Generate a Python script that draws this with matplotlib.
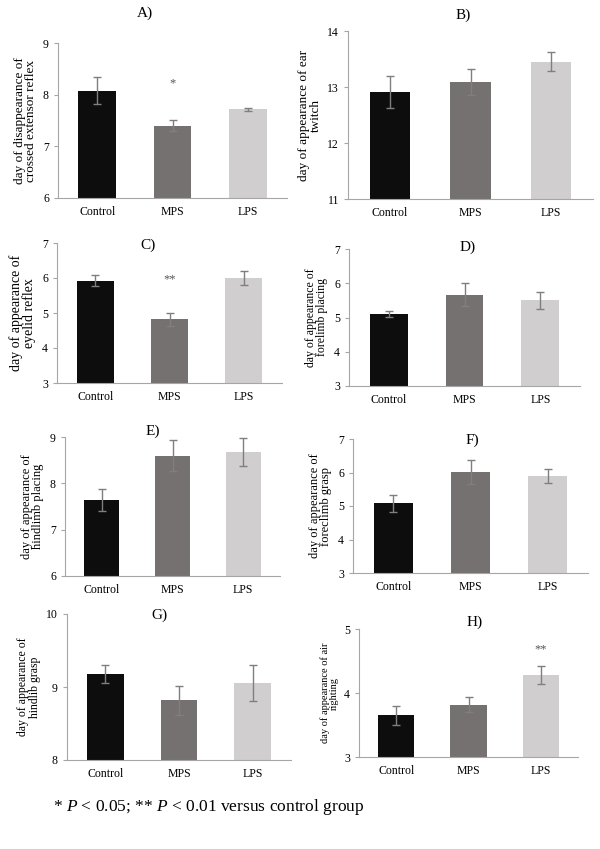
import numpy as np
import matplotlib
matplotlib.use("Agg")
import matplotlib.pyplot as plt

plt.rcParams["font.family"] = ["Liberation Serif", "DejaVu Serif"]
plt.rcParams["mathtext.fontset"] = "custom"
plt.rcParams["mathtext.rm"] = "Liberation Serif"
plt.rcParams["mathtext.it"] = "Liberation Serif:italic"

# Gruppen und Werte (Mittelwert, Fehler) je Panel
gruppen = ["Control", "MPS", "LPS"]

a_mittel = [8.08, 7.40, 7.72]
a_fehler = [0.26, 0.11, 0.03]
b_mittel = [12.91, 13.09, 13.45]
b_fehler = [0.28, 0.23, 0.17]
c_mittel = [5.92, 4.82, 6.00]
c_fehler = [0.16, 0.18, 0.20]
d_mittel = [5.10, 5.67, 5.50]
d_fehler = [0.09, 0.33, 0.24]
e_mittel = [7.64, 8.60, 8.67]
e_fehler = [0.245, 0.33, 0.30]
f_mittel = [5.08, 6.01, 5.90]
f_fehler = [0.25, 0.36, 0.21]
g_mittel = [9.18, 8.82, 9.06]
g_fehler = [0.12, 0.20, 0.245]
h_mittel = [3.65, 3.82, 4.28]
h_fehler = [0.15, 0.12, 0.145]

labels = ["day of disappearance of\ncrossed extensor reflex",
          "day of appearance of ear\ntwitch",
          "day of appearance of\neyelid reflex",
          "day of appearance of\nforelimb placing",
          "day of appearance of\nhindlimb placing",
          "day of appearance of\nforeclimb grasp",
          "day of appearance of\nhindlib grasp",
          "day of appearance of air\nrighting"]
titel = ["A)", "B)", "C)", "D)", "E)", "F)", "G)", "H)"]
y_ticks = [[6, 7, 8, 9], [11, 12, 13, 14], [3, 4, 5, 6, 7], [3, 4, 5, 6, 7],
           [6, 7, 8, 9], [3, 4, 5, 6, 7], [8, 9, 10], [3, 4, 5]]
# Sterne: (Panel, Gruppe, y, Text)
sterne = [(0, 1, 8.22, "*"), (2, 1, 5.95, "**"), (7, 2, 4.68, "**")]

farben = ["#0d0d0d", "#767171", "#d0cece"]
grau = "#a6a6a6"

W, H = 600, 849
# Achsen in Pixeln: links, rechts, oben, unten
boxen = [(58, 287, 43, 198), (348, 593, 31, 199),
         (57, 282, 243, 383), (349, 580, 249, 386),
         (65, 280, 437, 576), (353, 588, 439, 573),
         (67, 291, 614, 760), (359, 578, 629, 757)]
titel_pos = [(145, 13), (463, 15), (148, 245), (468, 247),
             (153, 431), (472, 440), (159, 615), (475, 622)]
label_groesse = [9.5, 9.5, 10, 8.5, 9, 9, 8.5, 7.5]

mittel = [a_mittel, b_mittel, c_mittel, d_mittel,
          e_mittel, f_mittel, g_mittel, h_mittel]
fehler = [a_fehler, b_fehler, c_fehler, d_fehler,
          e_fehler, f_fehler, g_fehler, h_fehler]

fig = plt.figure(figsize=(W / 100, H / 100), dpi=100)
achsen = []
for i in range(8):
    l, r, o, u = boxen[i]
    ax = fig.add_axes([l / W, 1 - u / H, (r - l) / W, (u - o) / H])
    x = np.arange(len(gruppen))
    ax.bar(x, mittel[i], width=0.5, color=farben, bottom=0,
           edgecolor="none", zorder=2)
    ax.errorbar(x, mittel[i], yerr=fehler[i], fmt="none",
                ecolor="#7f7f7f", elinewidth=1, capsize=3, capthick=1,
                zorder=3)
    ax.set_xlim(-0.52, 2.52)
    ax.set_ylim(y_ticks[i][0], y_ticks[i][-1])
    ax.set_yticks(y_ticks[i])
    ax.set_xticks(x)
    ax.set_xticklabels(gruppen)
    ax.spines["top"].set_visible(False)
    ax.spines["right"].set_visible(False)
    ax.spines["left"].set_color(grau)
    ax.spines["bottom"].set_color(grau)
    ax.tick_params(axis="x", length=0, labelsize=8.5, pad=6)
    ax.tick_params(axis="y", length=3, color=grau, labelsize=8.5)
    ax.set_ylabel(labels[i], fontsize=label_groesse[i], linespacing=0.95)
    fig.text(titel_pos[i][0] / W, 1 - titel_pos[i][1] / H, titel[i],
             fontsize=11, ha="center", va="center")
    achsen.append(ax)

for p, g, y, s in sterne:
    achsen[p].text(g, y, s, ha="center", va="center", fontsize=9,
                   color="#555555")

fig.text(53 / W, 1 - 807 / H, "* $\\mathit{P}$ < 0.05; ** $\\mathit{P}$ < 0.01 versus control group",
         fontsize=12.5, ha="left", va="center")

plt.savefig("out.png", dpi=100)
